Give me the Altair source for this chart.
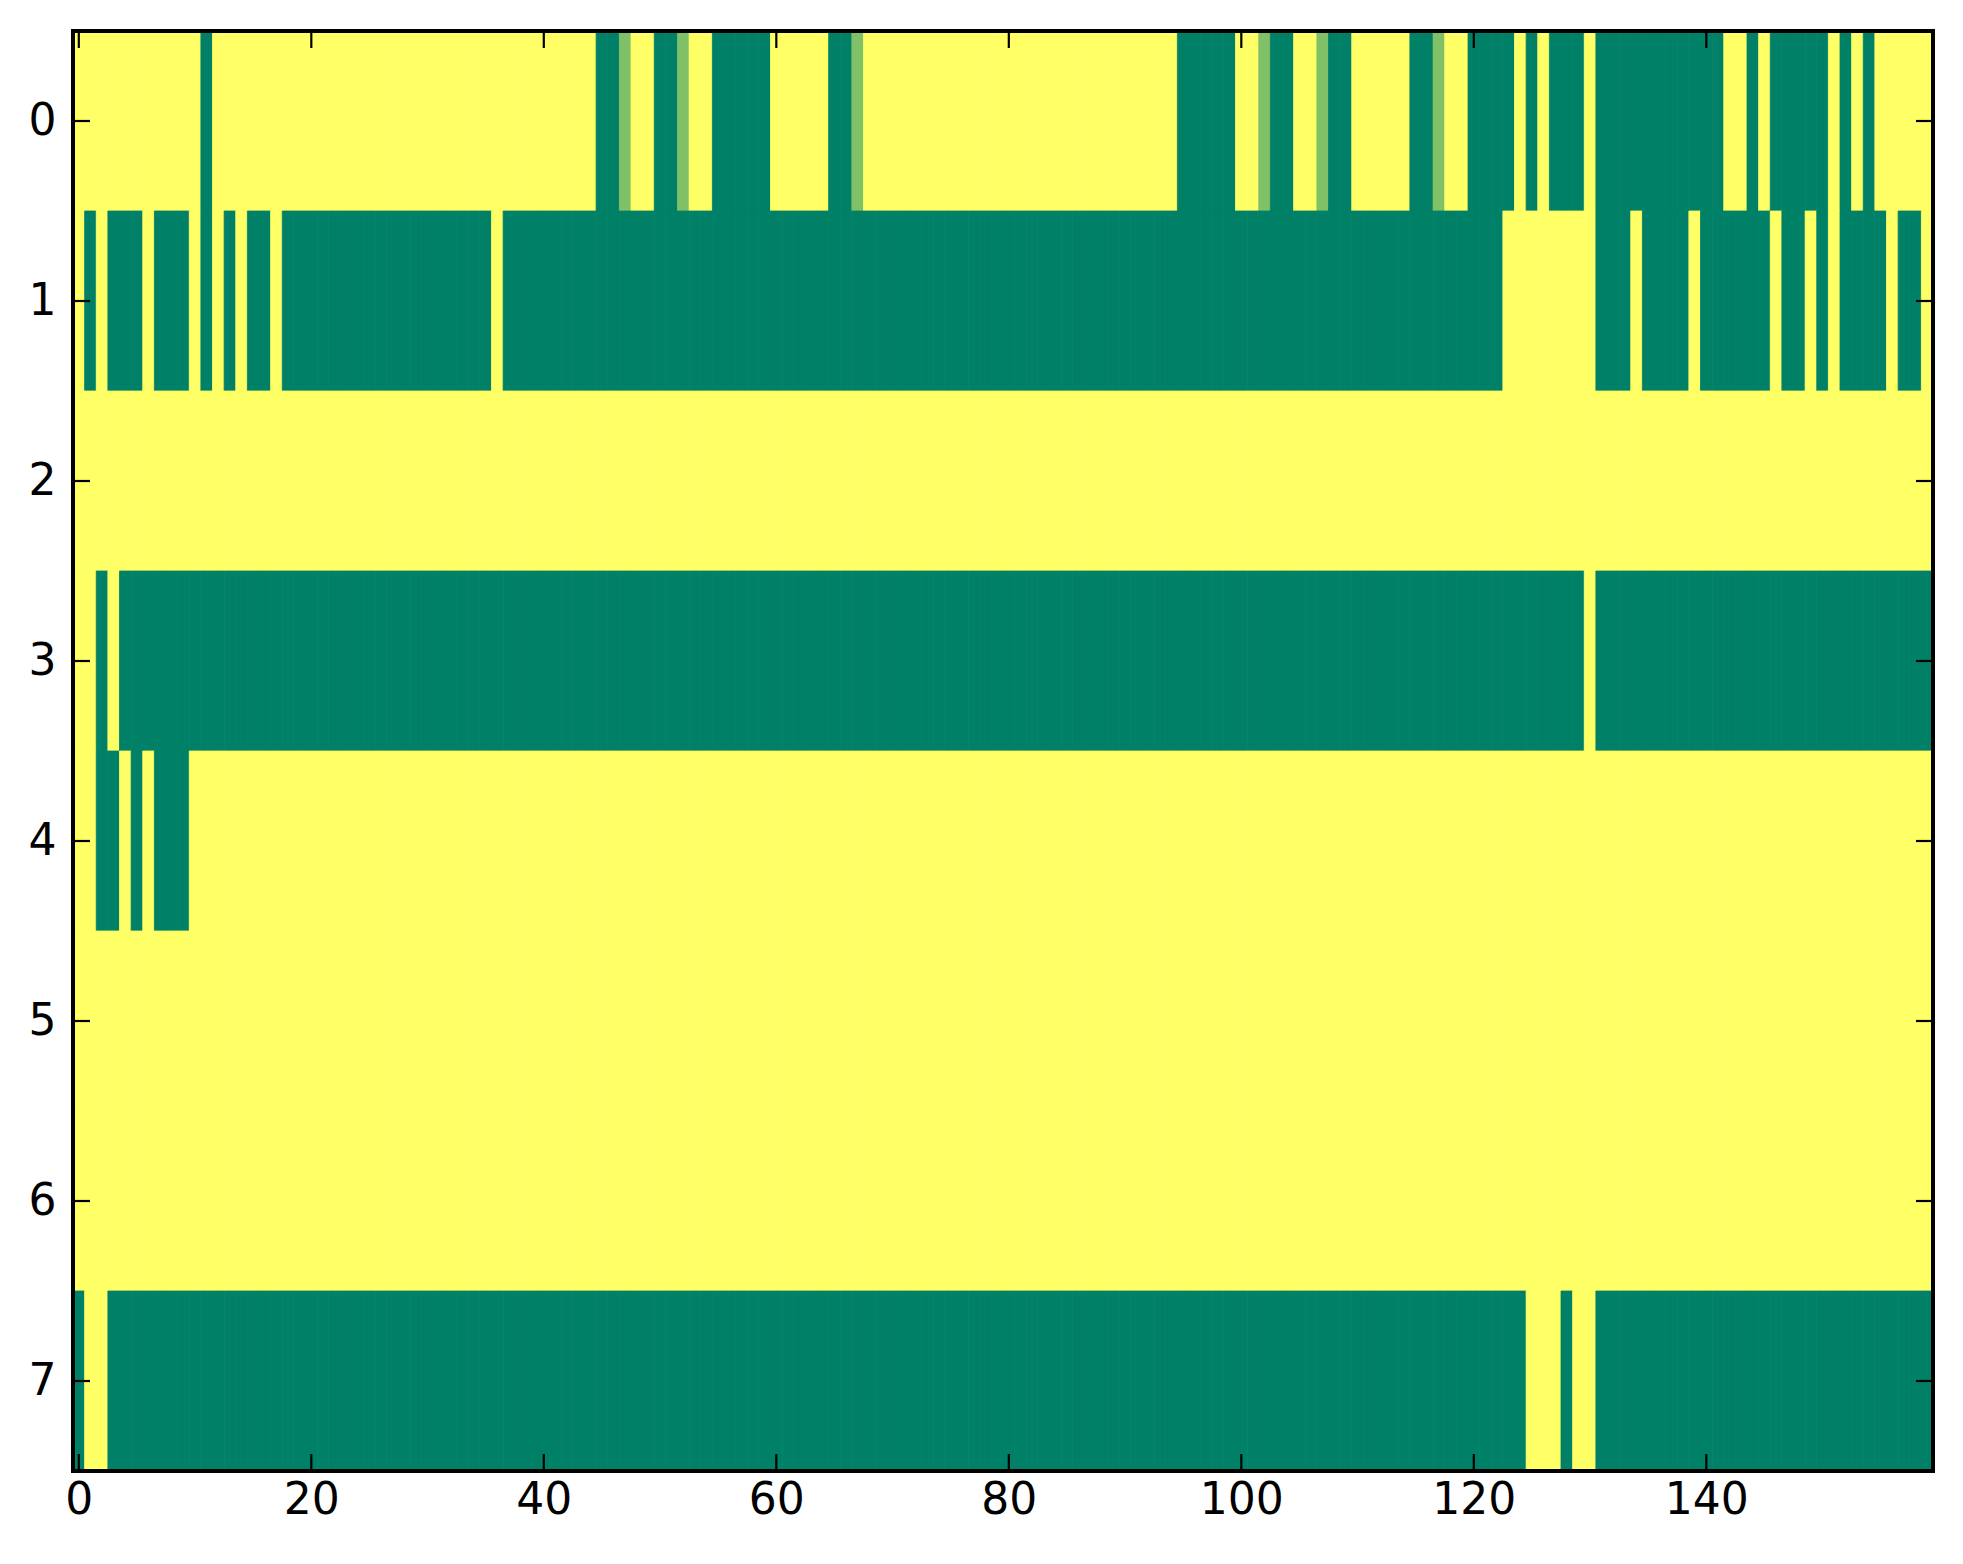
import altair as alt
import pandas as pd

N_COLS = 160
N_ROWS = 8

# Columns (inclusive runs) with the low value (dark green) in each row
green_runs = {
    0: [(11, 11), (45, 46), (50, 51), (55, 59), (65, 66), (95, 99), (103, 104),
        (108, 109), (115, 116), (120, 123), (125, 125), (127, 129), (131, 141),
        (144, 144), (146, 150), (152, 152), (154, 154)],
    1: [(1, 1), (3, 5), (7, 9), (11, 11), (13, 13), (15, 16), (18, 35), (37, 122),
        (131, 133), (135, 138), (140, 145), (147, 148), (150, 150), (152, 155),
        (157, 158)],
    2: [],
    3: [(2, 2), (4, 129), (131, 159)],
    4: [(2, 3), (5, 5), (7, 9)],
    5: [],
    6: [],
    7: [(0, 0), (3, 124), (128, 128), (131, 159)],
}
# Columns with the middle value (light green)
mid_cells = {0: [47, 52, 67, 102, 107, 117]}

LOW, MID, HIGH = 0.0, 0.5, 1.0

x_ticks = [0, 20, 40, 60, 80, 100, 120, 140]
y_ticks = [0, 1, 2, 3, 4, 5, 6, 7]

# build the grid
records = []
for r in range(N_ROWS):
    vals = [HIGH] * N_COLS
    for a, b in green_runs[r]:
        for c in range(a, b + 1):
            vals[c] = LOW
    for c in mid_cells.get(r, []):
        vals[c] = MID
    for c, v in enumerate(vals):
        records.append({"col": c, "row": r, "v": v})
df = pd.DataFrame(records)

W, H = 1860, 1440
FONT = "DejaVu Sans"
FS = 44

xs = alt.Scale(domain=[-0.5, N_COLS - 0.5], nice=False, zero=False)
ys = alt.Scale(domain=[-0.5, N_ROWS - 0.5], nice=False, zero=False, reverse=True)
cs = alt.Scale(domain=[0, 1], range=["#008066", "#ffff66"], interpolate="rgb")

x_axis = alt.Axis(values=x_ticks, ticks=False, grid=False, domain=False,
                  labelFont=FONT, labelFontSize=FS, labelColor="black",
                  labelPadding=7, labelFlush=False, labelOverlap=False,
                  format="d", title=None)
y_axis = alt.Axis(values=y_ticks, ticks=False, grid=False, domain=False,
                  labelFont=FONT, labelFontSize=FS, labelColor="black",
                  labelPadding=17, labelFlush=False, labelOverlap=False,
                  minExtent=50, maxExtent=50, format="d", title=None)

heat = alt.Chart(df).transform_calculate(
    x0="datum.col - 0.5", x1="datum.col + 0.5",
    y0="datum.row - 0.5", y1="datum.row + 0.5",
).mark_rect(strokeWidth=0.8).encode(
    x=alt.X("x0:Q", scale=xs, axis=x_axis),
    x2="x1:Q",
    y=alt.Y("y0:Q", scale=ys, axis=y_axis),
    y2="y1:Q",
    color=alt.Color("v:Q", scale=cs, legend=None),
    stroke=alt.Stroke("v:Q", scale=cs, legend=None),
)

xt = pd.DataFrame({"t": x_ticks})
yt = pd.DataFrame({"t": y_ticks})
TL = 17
TW = 2.2

x_bottom = alt.Chart(xt).mark_rule(color="black", strokeWidth=TW).encode(
    x=alt.X("t:Q", scale=xs, axis=x_axis), y=alt.value(H - TL), y2=alt.value(H))
x_top = alt.Chart(xt).mark_rule(color="black", strokeWidth=TW).encode(
    x=alt.X("t:Q", scale=xs, axis=x_axis), y=alt.value(0), y2=alt.value(TL))
y_left = alt.Chart(yt).mark_rule(color="black", strokeWidth=TW).encode(
    y=alt.Y("t:Q", scale=ys, axis=y_axis), x=alt.value(0), x2=alt.value(TL))
y_right = alt.Chart(yt).mark_rule(color="black", strokeWidth=TW).encode(
    y=alt.Y("t:Q", scale=ys, axis=y_axis), x=alt.value(W - TL), x2=alt.value(W))

frame = alt.Chart(pd.DataFrame({"a": [0]})).mark_rect(
    filled=False, stroke="black", strokeWidth=4
).encode(x=alt.value(0), x2=alt.value(W), y=alt.value(0), y2=alt.value(H))

chart = alt.layer(heat, x_bottom, x_top, y_left, y_right, frame).properties(
    width=W, height=H,
    padding={"left": 15, "top": 21, "right": 5, "bottom": 5},
    background="white",
).configure_view(stroke=None)

chart.save("out.html", embed_options={"renderer": "svg", "actions": False})
